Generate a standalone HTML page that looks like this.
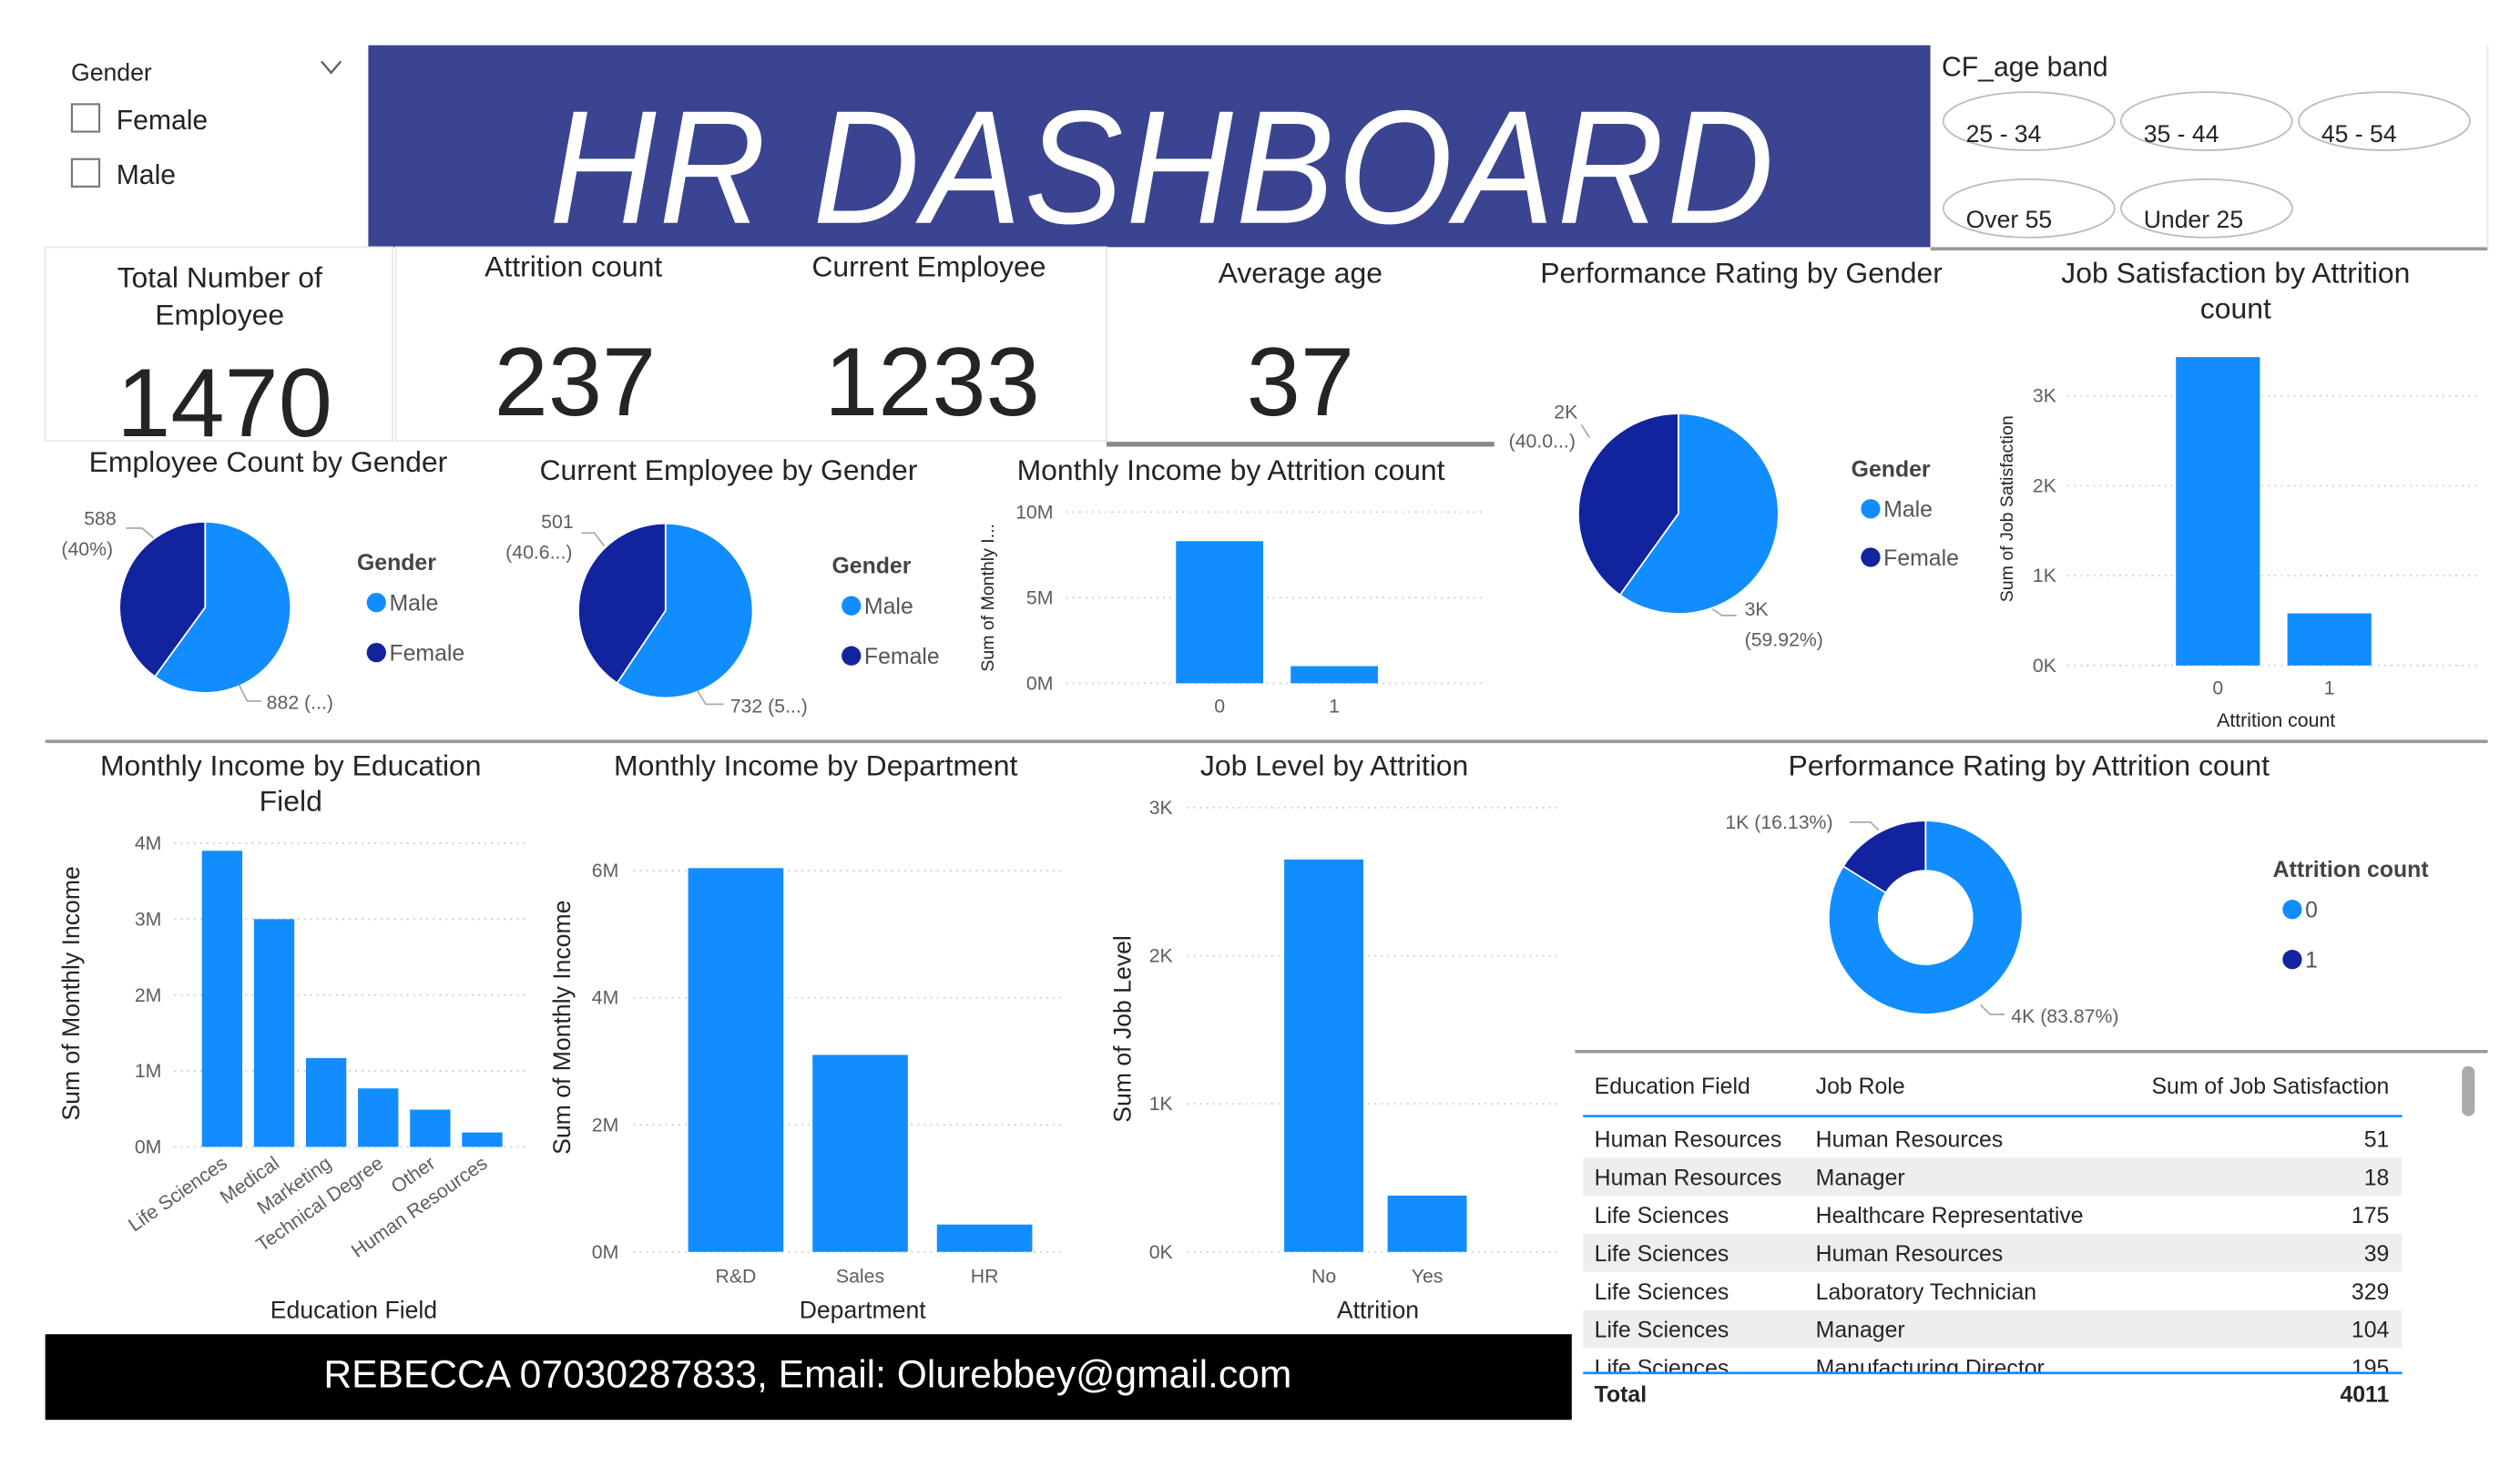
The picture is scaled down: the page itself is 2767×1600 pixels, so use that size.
<!DOCTYPE html>
<html><head><meta charset="utf-8"><style>
html,body{margin:0;padding:0;background:#fff;width:2767px;height:1600px;overflow:hidden}
svg{display:block;font-family:"Liberation Sans Narrow","Liberation Sans",sans-serif}
.t{font-size:18px;fill:#252423;text-anchor:middle}
</style></head><body>
<svg id="s" width="2767" height="1600" viewBox="0 0 1560 902" preserveAspectRatio="none" xmlns="http://www.w3.org/2000/svg">
<rect width="1560" height="902" fill="#fff"/>
<g>
<text x="44" y="50" font-size="15" fill="#252423">Gender</text>
<path d="M199 38 L205 45 L211 38" fill="none" stroke="#605E5C" stroke-width="1.3"/>
<rect x="44.5" y="64.5" width="17" height="17" fill="#fff" stroke="#777" stroke-width="1.2"/>
<text x="72" y="80" font-size="17" fill="#252423">Female</text>
<rect x="44.5" y="98.5" width="17" height="17" fill="#fff" stroke="#777" stroke-width="1.2"/>
<text x="72" y="114" font-size="17" fill="#252423">Male</text>
</g>
<rect x="228" y="28" width="967" height="125" fill="#3B4490"/>
<text x="720" y="138" font-size="100" fill="#fff" text-anchor="middle" font-style="italic" font-family="Liberation Sans, sans-serif" letter-spacing="2" textLength="760" lengthAdjust="spacingAndGlyphs">HR DASHBOARD</text>
<g>
<text x="1202" y="47" font-size="17" fill="#252423">CF_age band</text>
<ellipse cx="1256" cy="75" rx="53" ry="18" fill="#fff" stroke="#bbb"/><text x="1217" y="88" font-size="15" fill="#252423">25 - 34</text>
<ellipse cx="1366" cy="75" rx="53" ry="18" fill="#fff" stroke="#bbb"/><text x="1327" y="88" font-size="15" fill="#252423">35 - 44</text>
<ellipse cx="1476" cy="75" rx="53" ry="18" fill="#fff" stroke="#bbb"/><text x="1437" y="88" font-size="15" fill="#252423">45 - 54</text>
<ellipse cx="1256" cy="129" rx="53" ry="18" fill="#fff" stroke="#bbb"/><text x="1217" y="141" font-size="15" fill="#252423">Over 55</text>
<ellipse cx="1366" cy="129" rx="53" ry="18" fill="#fff" stroke="#bbb"/><text x="1327" y="141" font-size="15" fill="#252423">Under 25</text>
</g>
<line x1="1195" y1="154" x2="1540" y2="154" stroke="#999" stroke-width="2"/>
<line x1="1540" y1="28" x2="1540" y2="154" stroke="#e6e6e6"/>
<g>
<rect x="28" y="153" width="215" height="120" fill="none" stroke="#e8e8e8"/>
<text class="t" x="136" y="178">Total Number of</text><text class="t" x="136" y="201">Employee</text>
<text x="139" y="270" font-size="60" fill="#252423" text-anchor="middle">1470</text>
<rect x="245" y="153" width="440" height="120" fill="none" stroke="#e8e8e8"/>
<text class="t" x="355" y="171">Attrition count</text>
<text x="356" y="257" font-size="60" fill="#252423" text-anchor="middle">237</text>
<text class="t" x="575" y="171">Current Employee</text>
<text x="577" y="257" font-size="60" fill="#252423" text-anchor="middle">1233</text>
<text class="t" x="805" y="175">Average age</text>
<text x="805" y="257" font-size="60" fill="#252423" text-anchor="middle">37</text>
<line x1="685" y1="275" x2="925" y2="275" stroke="#888" stroke-width="3"/>
</g>
<line x1="28" y1="459" x2="1540" y2="459" stroke="#999" stroke-width="2"/>
<line x1="975" y1="651" x2="1540" y2="651" stroke="#999" stroke-width="2"/>
<text class="t" x="166" y="292">Employee Count by Gender</text>
<text class="t" x="451" y="297">Current Employee by Gender</text>
<text class="t" x="762" y="297">Monthly Income by Attrition count</text>
<text class="t" x="1078" y="175">Performance Rating by Gender</text>
<text class="t" x="1384" y="175">Job Satisfaction by Attrition</text><text class="t" x="1384" y="197">count</text>
<text class="t" x="180" y="480">Monthly Income by Education</text><text class="t" x="180" y="502">Field</text>
<text class="t" x="505" y="480">Monthly Income by Department</text>
<text class="t" x="826" y="480">Job Level by Attrition</text>
<text class="t" x="1256" y="480">Performance Rating by Attrition count</text>
<rect x="28" y="826" width="945" height="53" fill="#000"/>
<text x="500" y="859" font-size="24" fill="#fff" text-anchor="middle" font-family="Liberation Sans, sans-serif">REBECCA 07030287833, Email: Olurebbey@gmail.com</text>
<g id="charts"></g>
</svg>
<script>
const NS="http://www.w3.org/2000/svg";
const LB="#118DFF", DB="#12239E";
// data
const genderCats=["Male","Female"];
const empCount=[882,588];
const curEmp=[732,501];
const perfGender=[59.92,40.08];
const attrCats=["0","1"];
const incomeAttr=[8.3,1.0];           // millions
const jobSatAttr=[3.43,0.58];         // thousands
const perfAttr=[83.87,16.13];
const eduCats=["Life Sciences","Medical","Marketing","Technical Degree","Other","Human Resources"];
const eduIncome=[3.9,3.0,1.17,0.77,0.49,0.19];   // millions
const deptCats=["R&D","Sales","HR"];
const deptIncome=[6.04,3.1,0.43];     // millions
const attrYN=["No","Yes"];
const jobLevel=[2.65,0.38];           // thousands
const tblEdu=["Human Resources","Human Resources","Life Sciences","Life Sciences","Life Sciences","Life Sciences","Life Sciences"];
const tblRole=["Human Resources","Manager","Healthcare Representative","Human Resources","Laboratory Technician","Manager","Manufacturing Director"];
const tblVal=[51,18,175,39,329,104,195];
const tblTotal=4011;

const root=document.getElementById("charts");
function el(tag,attrs,parent,txt){const e=document.createElementNS(NS,tag);for(const k in attrs)e.setAttribute(k,attrs[k]);if(txt!==undefined)e.textContent=txt;(parent||root).appendChild(e);return e;}
function txt(x,y,s,size,fill,anchor,parent,extra){const o={x:x,y:y,"font-size":size,fill:fill,"text-anchor":anchor||"start"};if(extra)for(const k in extra)o[k]=extra[k];return el("text",o,parent,s);}

function pie(name,cx,cy,r,ri,vals,cols){
  const g=el("g",{});
  
  
  const tot=vals.reduce((a,b)=>a+b,0);let a0=-Math.PI/2;
  vals.forEach((v,i)=>{
    const a1=a0+v/tot*2*Math.PI, big=(a1-a0)>Math.PI?1:0;
    const p=(ang,rr)=>[cx+rr*Math.cos(ang),cy+rr*Math.sin(ang)];
    const [x0,y0]=p(a0,r),[x1,y1]=p(a1,r);
    let d;
    if(ri>0){const [x2,y2]=p(a1,ri),[x3,y3]=p(a0,ri);
      d=`M${x0} ${y0}A${r} ${r} 0 ${big} 1 ${x1} ${y1}L${x2} ${y2}A${ri} ${ri} 0 ${big} 0 ${x3} ${y3}Z`;}
    else d=`M${cx} ${cy}L${x0} ${y0}A${r} ${r} 0 ${big} 1 ${x1} ${y1}Z`;
    const s=el("path",{d:d,fill:cols[i],stroke:"#fff","stroke-width":1},g);
    
    
    a0=a1;
  });
  return g;
}
function legend(x,y,title,items,gap){
  const g=el("g",{});
  
  
  txt(x,y,title,14,"#444","start",g,{"font-weight":"bold"});
  items.forEach((it,i)=>{const yy=y+25+i*gap;
    el("circle",{cx:x+12,cy:yy-5,r:6,fill:i==0?LB:DB},g);
    txt(x+20,yy,it,14,"#555","start",g);});
}
function bars(name,o){
  const g=el("g",{});
  
  
  const ys=v=>o.y0-(v/o.max)*(o.y0-o.yTop);
  o.ticks.forEach(t=>{const y=ys(t);
    el("line",{x1:o.plotL,x2:o.plotR,y1:y,y2:y,stroke:"#ccc","stroke-dasharray":"1 3"},g);
    txt(o.tx,y+4,o.tf(t),12,"#605E5C",o.tanchor||"end",g);});
  o.vals.forEach((v,i)=>{
    const x=o.bx+i*o.step;
    const b=el("rect",{x:x,y:ys(v),width:o.bw,height:o.y0-ys(v),fill:LB},g);
    
    
    if(o.rot){
      txt(x+o.bw/2+4,o.ly,o.cats[i],12,"#605E5C","end",g,{transform:`rotate(-35 ${x+o.bw/2+4} ${o.ly})`});
    } else txt(x+o.bw/2,o.ly,o.cats[i],12,"#605E5C","middle",g);
  });
  if(o.xt) txt(o.xt[0],o.xt[1],o.xt[2],o.xt[3]||15,"#252423","middle",g);
  if(o.yt){txt(o.yt[0],o.yt[1],o.yt[2],o.yt[3]||15,"#252423","middle",g,{transform:`rotate(-90 ${o.yt[0]} ${o.yt[1]})`});}
}

pie("employee-count-pie",127,376,53,0,empCount,[LB,DB]);
txt(52,325,String(empCount[1]),12,"#605E5C","start");txt(38,344,"(40%)",12,"#605E5C","start");
txt(165,439,empCount[0]+" (...)",12,"#605E5C","start");
el("path",{d:"M78 327 L88 327 L95 333",fill:"none",stroke:"#aaa"});
el("path",{d:"M148 424 L153 434 L162 434",fill:"none",stroke:"#aaa"});
legend(221,353,"Gender",genderCats,31);

pie("current-employee-pie",412,378,54,0,curEmp,[LB,DB]);
txt(335,327,String(curEmp[1]),12,"#605E5C","start");txt(313,346,"(40.6...)",12,"#605E5C","start");
txt(452,441,curEmp[0]+" (5...)",12,"#605E5C","start");
el("path",{d:"M360 330 L368 330 L374 338",fill:"none",stroke:"#aaa"});
el("path",{d:"M432 428 L437 436 L448 436",fill:"none",stroke:"#aaa"});
legend(515,355,"Gender",genderCats,31);

pie("performance-gender-pie",1039,318,62,0,perfGender,[LB,DB]);
txt(962,259,"2K",12,"#605E5C","start");txt(934,277,"(40.0...)",12,"#605E5C","start");
txt(1080,381,"3K",12,"#605E5C","start");txt(1080,400,"(59.92%)",12,"#605E5C","start");
el("path",{d:"M979 263 L984 271",fill:"none",stroke:"#aaa"});
el("path",{d:"M1060 377 L1066 381 L1075 381",fill:"none",stroke:"#aaa"});
legend(1146,295,"Gender",genderCats,30);

pie("performance-attrition-donut",1192,568,60,29,perfAttr,[LB,DB]);
txt(1068,513,"1K ("+perfAttr[1]+"%)",12,"#605E5C","start");
txt(1245,633,"4K ("+perfAttr[0]+"%)",12,"#605E5C","start");
el("path",{d:"M1145 509 L1158 509 L1163 514",fill:"none",stroke:"#aaa"});
el("path",{d:"M1226 622 L1232 628 L1241 628",fill:"none",stroke:"#aaa"});
legend(1407,543,"Attrition count",attrCats,31);

bars("monthly-income-attrition-chart",{tx:652,plotL:660,plotR:918,yTop:317,y0:423,max:10,ticks:[0,5,10],tf:t=>t+"M",cats:attrCats,vals:incomeAttr,bx:728,bw:54,step:71,ly:441,yt:[615,370,"Sum of Monthly I...",11]});
bars("job-satisfaction-attrition-chart",{tx:1273,plotL:1280,plotR:1535,yTop:245,y0:412,max:3,ticks:[0,1,2,3],tf:t=>t+"K",cats:attrCats,vals:jobSatAttr,bx:1347,bw:52,step:69,ly:430,xt:[1409,450,"Attrition count",12],yt:[1246,315,"Sum of Job Satisfaction",11]});
bars("monthly-income-education-chart",{tx:100,plotL:108,plotR:328,yTop:522,y0:710,max:4,ticks:[0,1,2,3,4],tf:t=>t+"M",cats:eduCats,vals:eduIncome,bx:125,bw:25,step:32.2,ly:722,rot:true,xt:[219,816,"Education Field"],yt:[49,615,"Sum of Monthly Income"]});
bars("monthly-income-department-chart",{tx:383,plotL:392,plotR:660,yTop:539,y0:775,max:6,ticks:[0,2,4,6],tf:t=>t+"M",cats:deptCats,vals:deptIncome,bx:426,bw:59,step:77,ly:794,xt:[534,816,"Department"],yt:[353,636,"Sum of Monthly Income"]});
bars("job-level-attrition-chart",{tx:726,plotL:735,plotR:965,yTop:500,y0:775,max:3,ticks:[0,1,2,3],tf:t=>t+"K",cats:attrYN,vals:jobLevel,bx:795,bw:49,step:64,ly:794,xt:[853,816,"Attrition"],yt:[700,637,"Sum of Job Level"]});

const tg=el("g",{});


txt(987,677,"Education Field",14,"#252423","start",tg);
txt(1124,677,"Job Role",14,"#252423","start",tg);
txt(1479,677,"Sum of Job Satisfaction",14,"#252423","end",tg);
el("line",{x1:980,x2:1487,y1:691,y2:691,stroke:"#118DFF","stroke-width":1.5},tg);
tblVal.forEach((v,i)=>{
  const y=693+i*23.6;
  if(i%2==1) el("rect",{x:980,y:y,width:507,height:23.6,fill:"#eeeeee"},tg);
  const r=el("g",{},tg);
  
  
  txt(987,y+17,tblEdu[i],14,"#252423","start",r);
  txt(1124,y+17,tblRole[i],14,"#252423","start",r);
  txt(1479,y+17,String(v),14,"#252423","end",r);
});
el("rect",{x:980,y:850,width:507,height:30,fill:"#fff"},tg);
el("line",{x1:980,x2:1487,y1:850,y2:850,stroke:"#118DFF","stroke-width":1.5},tg);
txt(987,868,"Total",14,"#252423","start",tg,{"font-weight":"bold"});
txt(1479,868,String(tblTotal),14,"#252423","end",tg,{"font-weight":"bold"});
const sb=el("rect",{x:1524,y:660,width:8,height:31,rx:4,fill:"#aaa"},tg);


</script>
</body></html>
